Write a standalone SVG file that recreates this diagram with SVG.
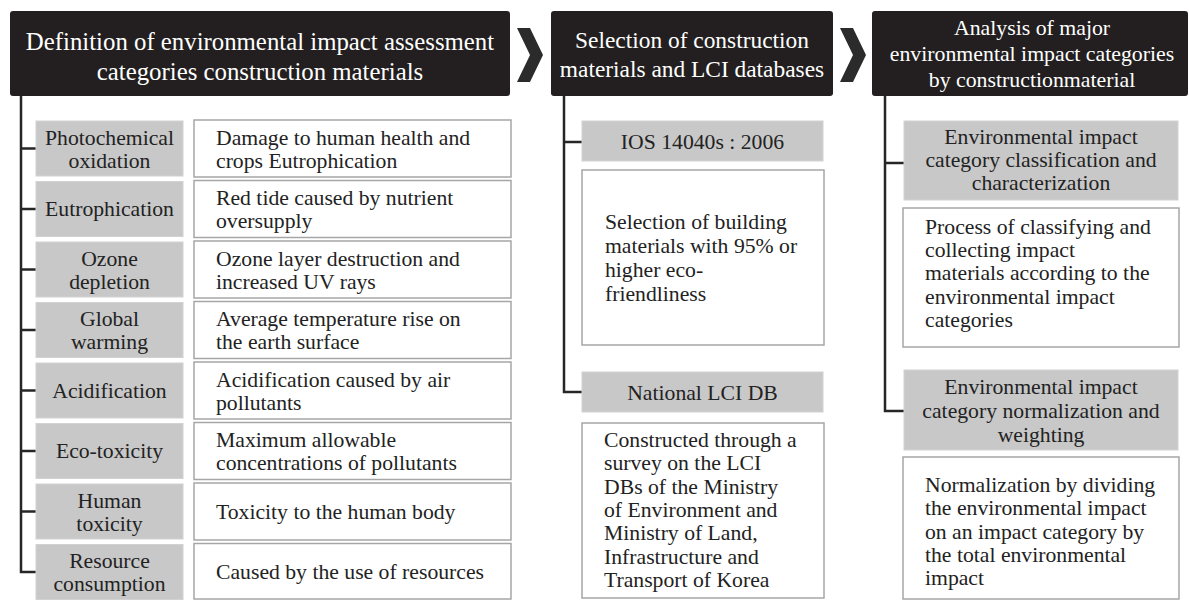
<svg xmlns="http://www.w3.org/2000/svg" width="1189" height="600" viewBox="0 0 1189 600">
<style>
text{font-family:"Liberation Serif","Times New Roman",serif;fill:#222}
.hd{fill:#231f20}
.hdt{fill:#fff;text-anchor:middle}
.chev{fill:#2b2b2b}
.gray{fill:#c8c8c8;stroke:#d2d2d2;stroke-width:1}
.white{fill:#fff;stroke:#a6a6a6;stroke-width:1.5}
.b{font-size:21.7px}
.c{text-anchor:middle}
.tree{fill:none;stroke:#262626;stroke-width:2.5}
</style>
<g id="connectors">
<path class="tree" d="M21 96 V572 H36 M21 148.5 H36 M21 209 H36 M21 269.5 H36 M21 330 H36 M21 390.5 H36 M21 451 H36 M21 511.5 H36"/>
<path class="tree" d="M564 96 V392 H582 M564 142 H582"/>
<path class="tree" d="M885 96 V411 H904 M885 163 H904"/>
<polygon class="chev" points="517,28 530,28 543,55 530,82 517,82 530,55"/>
<polygon class="chev" points="840,28 853,28 866,55 853,82 840,82 853,55"/>
</g>
<g id="header1">
<rect class="hd" x="10" y="11" width="500" height="85" rx="3"/>
<text class="hdt" x="260" y="50" font-size="24.8">Definition of environmental impact assessment</text>
<text class="hdt" x="260" y="80" font-size="24.8">categories construction materials</text>
</g>
<g id="header2">
<rect class="hd" x="551" y="11" width="282" height="85" rx="3"/>
<text class="hdt" x="692" y="48" font-size="23.4">Selection of construction</text>
<text class="hdt" x="692" y="77" font-size="23.4">materials and LCI databases</text>
</g>
<g id="header3">
<rect class="hd" x="872" y="11" width="316" height="85" rx="3"/>
<text class="hdt" x="1032" y="35" font-size="21.8">Analysis of major</text>
<text class="hdt" x="1032" y="61" font-size="21.8">environmental impact categories</text>
<text class="hdt" x="1032" y="87" font-size="21.8">by constructionmaterial</text>
</g>
<g id="row1">
<rect class="gray" x="36" y="121" width="147" height="55"/>
<text class="b c" x="109.5" y="144.5">Photochemical</text>
<text class="b c" x="109.5" y="167.5">oxidation</text>
<rect class="white" x="194" y="120" width="317" height="57"/>
<text class="b" x="216" y="144.5">Damage to human health and</text>
<text class="b" x="216" y="167.5">crops Eutrophication</text>
</g>
<g id="row2">
<rect class="gray" x="36" y="181.5" width="147" height="55"/>
<text class="b c" x="109.5" y="216">Eutrophication</text>
<rect class="white" x="194" y="180.5" width="317" height="57"/>
<text class="b" x="216" y="205">Red tide caused by nutrient</text>
<text class="b" x="216" y="228">oversupply</text>
</g>
<g id="row3">
<rect class="gray" x="36" y="242" width="147" height="55"/>
<text class="b c" x="109.5" y="265.5">Ozone</text>
<text class="b c" x="109.5" y="288.5">depletion</text>
<rect class="white" x="194" y="241" width="317" height="57"/>
<text class="b" x="216" y="265.5">Ozone layer destruction and</text>
<text class="b" x="216" y="288.5">increased UV rays</text>
</g>
<g id="row4">
<rect class="gray" x="36" y="302.5" width="147" height="55"/>
<text class="b c" x="109.5" y="326">Global</text>
<text class="b c" x="109.5" y="349">warming</text>
<rect class="white" x="194" y="301.5" width="317" height="57"/>
<text class="b" x="216" y="326">Average temperature rise on</text>
<text class="b" x="216" y="349">the earth surface</text>
</g>
<g id="row5">
<rect class="gray" x="36" y="363" width="147" height="55"/>
<text class="b c" x="109.5" y="397.5">Acidification</text>
<rect class="white" x="194" y="362" width="317" height="57"/>
<text class="b" x="216" y="386.5">Acidification  caused by air</text>
<text class="b" x="216" y="409.5">pollutants</text>
</g>
<g id="row6">
<rect class="gray" x="36" y="423.5" width="147" height="55"/>
<text class="b c" x="109.5" y="458">Eco-toxicity</text>
<rect class="white" x="194" y="422.5" width="317" height="57"/>
<text class="b" x="216" y="447">Maximum allowable</text>
<text class="b" x="216" y="470">concentrations of pollutants</text>
</g>
<g id="row7">
<rect class="gray" x="36" y="484" width="147" height="55"/>
<text class="b c" x="109.5" y="507.5">Human</text>
<text class="b c" x="109.5" y="530.5">toxicity</text>
<rect class="white" x="194" y="483" width="317" height="57"/>
<text class="b" x="216" y="518.5">Toxicity to the human body</text>
</g>
<g id="row8">
<rect class="gray" x="36" y="544.5" width="147" height="55"/>
<text class="b c" x="109.5" y="568">Resource</text>
<text class="b c" x="109.5" y="591">consumption</text>
<rect class="white" x="194" y="543.5" width="317" height="55.5"/>
<text class="b" x="216" y="579">Caused by the use of resources</text>
</g>
<g id="ios">
<rect class="gray" x="582" y="121" width="241" height="40"/>
<text class="b c" x="702.5" y="149">IOS 14040s : 2006</text>
</g>
<g id="ios-desc">
<rect class="white" x="582" y="170" width="242" height="175"/>
<text class="b" x="605" y="229">Selection of building</text>
<text class="b" x="605" y="253">materials with 95% or</text>
<text class="b" x="605" y="277">higher eco-</text>
<text class="b" x="605" y="301">friendliness</text>
</g>
<g id="lci">
<rect class="gray" x="582" y="372" width="241" height="40"/>
<text class="b c" x="702.5" y="400">National LCI DB</text>
</g>
<g id="lci-desc">
<rect class="white" x="582" y="423" width="242" height="175"/>
<text class="b" x="604" y="447">Constructed through a</text>
<text class="b" x="604" y="470">survey on the LCI</text>
<text class="b" x="604" y="494">DBs of the Ministry</text>
<text class="b" x="604" y="517">of Environment and</text>
<text class="b" x="604" y="540">Ministry of Land,</text>
<text class="b" x="604" y="564">Infrastructure and</text>
<text class="b" x="604" y="587">Transport of Korea</text>
</g>
<g id="classification">
<rect class="gray" x="904" y="121" width="274" height="79"/>
<text class="b c" x="1041" y="144">Environmental impact</text>
<text class="b c" x="1041" y="167">category classification and</text>
<text class="b c" x="1041" y="190">characterization</text>
</g>
<g id="classification-desc">
<rect class="white" x="903" y="208" width="276" height="139"/>
<text class="b" x="925" y="234">Process of classifying and</text>
<text class="b" x="925" y="257">collecting impact</text>
<text class="b" x="925" y="280">materials according to the</text>
<text class="b" x="925" y="304">environmental impact</text>
<text class="b" x="925" y="327">categories</text>
</g>
<g id="normalization">
<rect class="gray" x="904" y="370" width="274" height="80"/>
<text class="b c" x="1041" y="394">Environmental impact</text>
<text class="b c" x="1041" y="418">category normalization  and</text>
<text class="b c" x="1041" y="442">weighting</text>
</g>
<g id="normalization-desc">
<rect class="white" x="903" y="457" width="276" height="142"/>
<text class="b" x="925" y="492">Normalization by dividing</text>
<text class="b" x="925" y="515">the environmental impact</text>
<text class="b" x="925" y="539">on an impact category by</text>
<text class="b" x="925" y="562">the total environmental</text>
<text class="b" x="925" y="585">impact</text>
</g>
</svg>
